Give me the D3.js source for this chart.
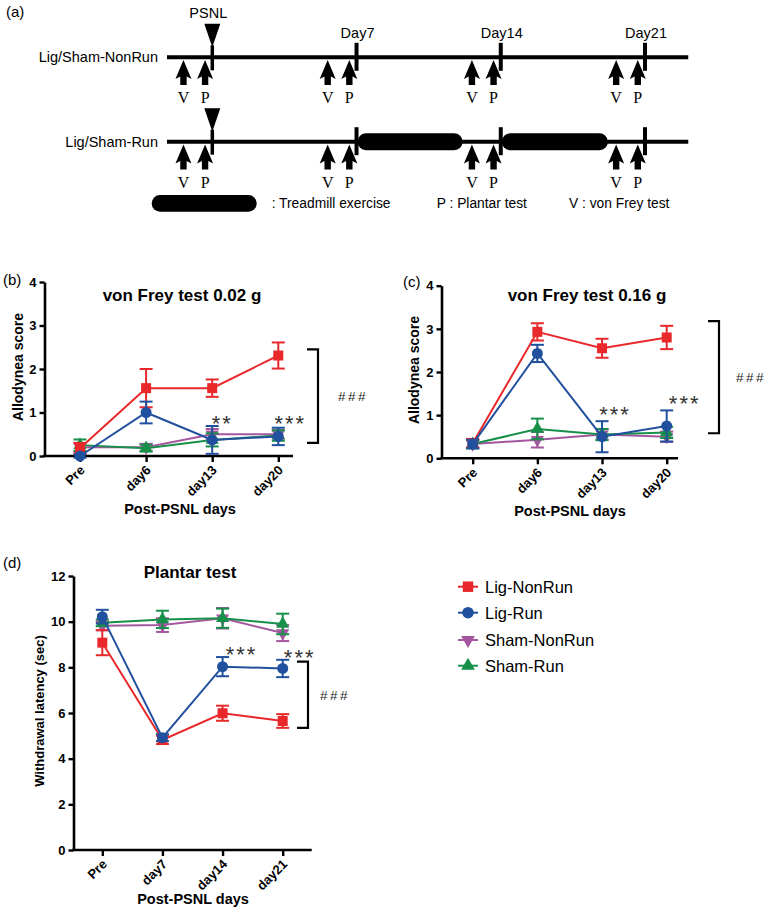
<!DOCTYPE html>
<html><head><meta charset="utf-8">
<script src="https://cdn.jsdelivr.net/npm/d3@7"></script>
<style>
html,body{margin:0;padding:0;background:#fff;}
svg{display:block;}
</style></head>
<body>
<svg id="chart" width="765" height="910" font-family="Liberation Sans, Arial, Helvetica, sans-serif"></svg>
<script>
// ---------- DATA ----------
// Panel (a) timeline (days relative to PSNL surgery)
const timelineDays = [7, 14, 21];
const vonFreyDays = [-1.4, 5.6, 12.6, 19.6];
const plantarDays = [-0.35, 6.65, 13.65, 20.65];
const treadmillStart = [7.05, 14.05];
const treadmillEnd = [12.15, 19.2];
const timelineRange = [-2.2, 23.1];
const groupRows = ["Lig/Sham-NonRun", "Lig/Sham-Run"];

const seriesNames = ["Lig-NonRun", "Lig-Run", "Sham-NonRun", "Sham-Run"];
const seriesColors = ["#e8282b", "#21509e", "#a4579f", "#17904a"];

// Panel (b) von Frey 0.02 g
const bCats = ["Pre", "day6", "day13", "day20"];
const bLigNonRun = [0.18, 1.56, 1.56, 2.31];
const bLigNonRunErr = [0.12, 0.44, 0.2, 0.3];
const bLigRun = [0.0, 1.0, 0.37, 0.45];
const bLigRunErr = [0.04, 0.25, 0.32, 0.2];
const bShamNonRun = [0.2, 0.2, 0.5, 0.5];
const bShamNonRunErr = [0.1, 0.08, 0.12, 0.1];
const bShamRun = [0.25, 0.18, 0.37, 0.47];
const bShamRunErr = [0.13, 0.08, 0.15, 0.12];
const bTicks = [0, 1, 2, 3, 4];

// Panel (c) von Frey 0.16 g
const cCats = ["Pre", "day6", "day13", "day20"];
const cLigNonRun = [0.35, 2.93, 2.55, 2.8];
const cLigNonRunErr = [0.1, 0.2, 0.22, 0.27];
const cLigRun = [0.33, 2.43, 0.5, 0.75];
const cLigRunErr = [0.1, 0.2, 0.36, 0.36];
const cShamNonRun = [0.33, 0.43, 0.55, 0.5];
const cShamNonRunErr = [0.08, 0.18, 0.12, 0.12];
const cShamRun = [0.33, 0.68, 0.55, 0.6];
const cShamRunErr = [0.1, 0.24, 0.13, 0.13];
const cTicks = [0, 1, 2, 3, 4];

// Panel (d) Plantar test
const dCats = ["Pre", "day7", "day14", "day21"];
const dLigNonRun = [9.08, 4.82, 5.99, 5.65];
const dLigNonRunErr = [0.55, 0.18, 0.33, 0.3];
const dLigRun = [10.22, 4.92, 8.03, 7.95];
const dLigRunErr = [0.3, 0.15, 0.42, 0.38];
const dShamNonRun = [9.82, 9.85, 10.15, 9.5];
const dShamNonRunErr = [0.2, 0.3, 0.45, 0.35];
const dShamRun = [9.95, 10.1, 10.15, 9.9];
const dShamRunErr = [0.15, 0.38, 0.42, 0.45];
const dTicks = [0, 2, 4, 6, 8, 10, 12];

// ---------- DRAW ----------
const svg = d3.select("#chart");
svg.append("rect").attr("width", 765).attr("height", 910).attr("fill", "#fff");
const SERIF = "Liberation Serif, Times New Roman, serif";

// ===== Panel (a) =====
const A = svg.append("g");
A.append("text").attr("x", 6).attr("y", 17).attr("font-size", 15).text("(a)");
const tx = d3.scaleLinear().domain([0, 21]).range([212.3, 645]);
const rowY = [57.3, 141.7];

function upArrow(g, x, t) {
  const p = `M${x},${t} L${x+8},${t+19} L${x+3.2},${t+16.5} L${x+3.2},${t+25} L${x-3.2},${t+25} L${x-3.2},${t+16.5} L${x-8},${t+19} Z`;
  g.append("path").attr("d", p).attr("fill", "#000");
}

groupRows.forEach((name, i) => {
  const y = rowY[i];
  A.append("text").attr("x", 158).attr("y", y + 5).attr("text-anchor", "end")
    .attr("font-size", 14.5).text(name);
  A.append("line").attr("x1", tx(timelineRange[0])).attr("x2", tx(timelineRange[1]))
    .attr("y1", y).attr("y2", y).attr("stroke", "#000").attr("stroke-width", 4);
  const px = tx(0);
  const triTop = y - 33.5, triTip = y - 10;
  A.append("path").attr("d", `M${px-8},${triTop} L${px+8},${triTop} L${px},${triTip} Z`).attr("fill", "#000");
  A.append("line").attr("x1", px).attr("x2", px).attr("y1", triTip - 2).attr("y2", y + 13)
    .attr("stroke", "#000").attr("stroke-width", 3.5);
  timelineDays.forEach(d => {
    A.append("line").attr("x1", tx(d)).attr("x2", tx(d)).attr("y1", y - 14.5).attr("y2", y + 13.5)
      .attr("stroke", "#000").attr("stroke-width", 4);
  });
  if (i === 1) {
    treadmillStart.forEach((s, k) => {
      A.append("rect").attr("x", tx(s)).attr("width", tx(treadmillEnd[k]) - tx(s))
        .attr("y", y - 8.5).attr("height", 17).attr("rx", 8.5).attr("fill", "#000");
    });
  }
  vonFreyDays.forEach(d => {
    upArrow(A, tx(d), y + 2.7);
    A.append("text").attr("x", tx(d)).attr("y", y + 46).attr("text-anchor", "middle")
      .attr("font-family", SERIF).attr("font-size", 16).text("V");
  });
  plantarDays.forEach(d => {
    upArrow(A, tx(d), y + 2.7);
    A.append("text").attr("x", tx(d)).attr("y", y + 46).attr("text-anchor", "middle")
      .attr("font-family", SERIF).attr("font-size", 16).text("P");
  });
});
A.append("text").attr("x", tx(0) - 4).attr("y", 18).attr("text-anchor", "middle").attr("font-size", 14.5).text("PSNL");
timelineDays.forEach(d => {
  A.append("text").attr("x", tx(d) + 1).attr("y", 38).attr("text-anchor", "middle").attr("font-size", 14.5).text("Day" + d);
});
A.append("rect").attr("x", 151.7).attr("width", 105).attr("y", 195).attr("height", 16.7).attr("rx", 8.3).attr("fill", "#000");
A.append("text").attr("x", 271.7).attr("y", 208).attr("font-size", 13.8).text(": Treadmill exercise");
A.append("text").attr("x", 436.7).attr("y", 208).attr("font-size", 13.8).text("P : Plantar test");
A.append("text").attr("x", 569).attr("y", 208).attr("font-size", 13.8).text("V : von Frey test");

// ===== Line panels =====
const symbols = [d3.symbolSquare, d3.symbolCircle, d3.symbolTriangle, d3.symbolTriangle];
const symSizes = [100, 95, 75, 75];
const symRot = [0, 0, 180, 0];
const drawOrder = [2, 3, 0, 1];

function panel(cfg) {
  const g = svg.append("g");
  const x = d3.scalePoint().domain(cfg.cats).range(cfg.xr).padding(0);
  const y = d3.scaleLinear().domain(cfg.yd).range(cfg.yr);
  g.append("text").attr("x", cfg.lab[0]).attr("y", cfg.lab[1]).attr("font-size", 15).text(cfg.label);
  g.append("text").attr("x", cfg.title[0]).attr("y", cfg.title[1]).attr("text-anchor", "middle")
    .attr("font-size", 17).attr("font-weight", "bold").text(cfg.titleText);
  const ya = g.append("g").attr("transform", `translate(${cfg.ax},0)`)
    .call(d3.axisLeft(y).tickValues(cfg.ticks).tickFormat(d3.format("d")).tickSize(5).tickPadding(3).tickSizeOuter(0));
  ya.select(".domain").attr("stroke-width", 2.6).attr("stroke", "#000");
  ya.selectAll(".tick line").attr("stroke-width", 2.4).attr("stroke", "#000");
  ya.selectAll(".tick text").attr("font-size", 13).attr("font-weight", "bold")
    .attr("font-family", "Liberation Sans, Arial, sans-serif").attr("fill", "#000");
  const xa = g.append("g").attr("transform", `translate(0,${cfg.yr[0]})`)
    .call(d3.axisBottom(x).tickSize(6).tickSizeOuter(0));
  xa.select(".domain").remove();
  xa.append("line").attr("x1", cfg.ax - 1.3).attr("x2", cfg.axEnd).attr("y1", 0).attr("y2", 0)
    .attr("stroke", "#000").attr("stroke-width", 2.6);
  xa.selectAll(".tick line").attr("stroke-width", 2.4).attr("stroke", "#000");
  xa.selectAll(".tick text").attr("font-size", 13).attr("font-weight", "bold")
    .attr("font-family", "Liberation Sans, Arial, sans-serif").attr("fill", "#000")
    .attr("text-anchor", "end").attr("dy", 0).attr("y", 0)
    .attr("transform", "translate(5,15) rotate(-45)");
  g.append("text").attr("x", cfg.xt[0]).attr("y", cfg.xt[1]).attr("text-anchor", "middle")
    .attr("font-size", cfg.xtSize).attr("font-weight", "bold").text("Post-PSNL days");
  g.append("text").attr("transform", `translate(${cfg.yt[0]},${cfg.yt[1]}) rotate(-90)`)
    .attr("text-anchor", "middle").attr("font-size", cfg.ytSize).attr("font-weight", "bold").text(cfg.ytText);
  drawOrder.forEach(si => {
    const vals = cfg.series[si], errs = cfg.errs[si], col = seriesColors[si];
    const pts = cfg.cats.map((c, i) => ({ c, v: vals[i], e: errs[i] }));
    g.append("path").datum(pts)
      .attr("d", d3.line().x(d => x(d.c)).y(d => y(d.v)))
      .attr("fill", "none").attr("stroke", col).attr("stroke-width", 2);
    pts.forEach(d => {
      g.append("line").attr("x1", x(d.c)).attr("x2", x(d.c)).attr("y1", y(d.v - d.e)).attr("y2", y(d.v + d.e))
        .attr("stroke", col).attr("stroke-width", 2);
      [d.v - d.e, d.v + d.e].forEach(v => {
        g.append("line").attr("x1", x(d.c) - 6.5).attr("x2", x(d.c) + 6.5).attr("y1", y(v)).attr("y2", y(v))
          .attr("stroke", col).attr("stroke-width", 2);
      });
      g.append("path").attr("d", d3.symbol().type(symbols[si]).size(symSizes[si])())
        .attr("transform", `translate(${x(d.c)},${y(d.v)}) rotate(${symRot[si]})`)
        .attr("fill", col);
    });
  });
  cfg.stars.forEach(s => {
    g.append("text").attr("x", x(s.c) + s.dx).attr("y", y(s.v) + 12).attr("text-anchor", "middle")
      .attr("font-size", 22).attr("letter-spacing", 2).attr("fill", "#333").text(s.t);
  });
  const b = cfg.bracket;
  g.append("path").attr("d", `M${b.x - 11},${y(b.v1)} H${b.x} V${y(b.v0)} H${b.x - 11}`)
    .attr("fill", "none").attr("stroke", "#000").attr("stroke-width", 2.2);
  g.append("text").attr("x", b.x + b.hx).attr("y", (y(b.v0) + y(b.v1)) / 2 + b.hy).attr("text-anchor", "middle")
    .attr("font-size", 13.5).attr("letter-spacing", 2.5).attr("fill", "#222").text("###");
  return { x, y };
}

panel({
  label: "(b)", lab: [3, 285], titleText: "von Frey test 0.02 g", title: [182, 301],
  cats: bCats, xr: [80, 278.3], yd: [0, 4], yr: [456, 282], ax: 44.5, axEnd: 293, ticks: bTicks,
  xt: [180, 514], xtSize: 14.5, yt: [23, 367], ytSize: 14, ytText: "Allodynea score",
  series: [bLigNonRun, bLigRun, bShamNonRun, bShamRun],
  errs: [bLigNonRunErr, bLigRunErr, bShamNonRunErr, bShamRunErr],
  stars: [{ c: "day13", v: 0.86, dx: 10, t: "**" }, { c: "day20", v: 0.86, dx: 12, t: "***" }],
  bracket: { x: 318, v0: 0.3, v1: 2.45, hx: 35, hy: 5 }
});

panel({
  label: "(c)", lab: [403, 287], titleText: "von Frey test 0.16 g", title: [587, 301],
  cats: cCats, xr: [472.7, 666.7], yd: [0, 4], yr: [458.3, 285.7], ax: 441.5, axEnd: 678, ticks: cTicks,
  xt: [570, 516], xtSize: 14.5, yt: [419, 370], ytSize: 14, ytText: "Allodynea score",
  series: [cLigNonRun, cLigRun, cShamNonRun, cShamRun],
  errs: [cLigNonRunErr, cLigRunErr, cShamNonRunErr, cShamRunErr],
  stars: [{ c: "day13", v: 1.12, dx: 13, t: "***" }, { c: "day20", v: 1.37, dx: 18, t: "***" }],
  bracket: { x: 719, v0: 0.58, v1: 3.18, hx: 32, hy: 5 }
});

panel({
  label: "(d)", lab: [3, 568], titleText: "Plantar test", title: [190, 578],
  cats: dCats, xr: [102.3, 282.7], yd: [0, 12], yr: [850, 576], ax: 73.5, axEnd: 311.7, ticks: dTicks,
  xt: [193, 904], xtSize: 14.5, yt: [44, 711], ytSize: 13, ytText: "Withdrawal latency (sec)",
  series: [dLigNonRun, dLigRun, dShamNonRun, dShamRun],
  errs: [dLigNonRunErr, dLigRunErr, dShamNonRunErr, dShamRunErr],
  stars: [{ c: "day14", v: 8.75, dx: 19, t: "***" }, { c: "day21", v: 8.62, dx: 17, t: "***" }],
  bracket: { x: 308, v0: 5.35, v1: 8.25, hx: 27, hy: 5 }
});

// ===== Legend =====
const L = svg.append("g");
const legY = [586.7, 612.7, 640, 665.7];
seriesNames.forEach((n, i) => {
  L.append("line").attr("x1", 458).attr("x2", 478).attr("y1", legY[i]).attr("y2", legY[i])
    .attr("stroke", seriesColors[i]).attr("stroke-width", 2);
  L.append("path").attr("d", d3.symbol().type(symbols[i]).size(symSizes[i] * 1.1)())
    .attr("transform", `translate(468,${legY[i]}) rotate(${symRot[i]})`).attr("fill", seriesColors[i]);
  L.append("text").attr("x", 485).attr("y", legY[i] + 6).attr("font-size", 16.5).text(n);
});
</script>
</body></html>
